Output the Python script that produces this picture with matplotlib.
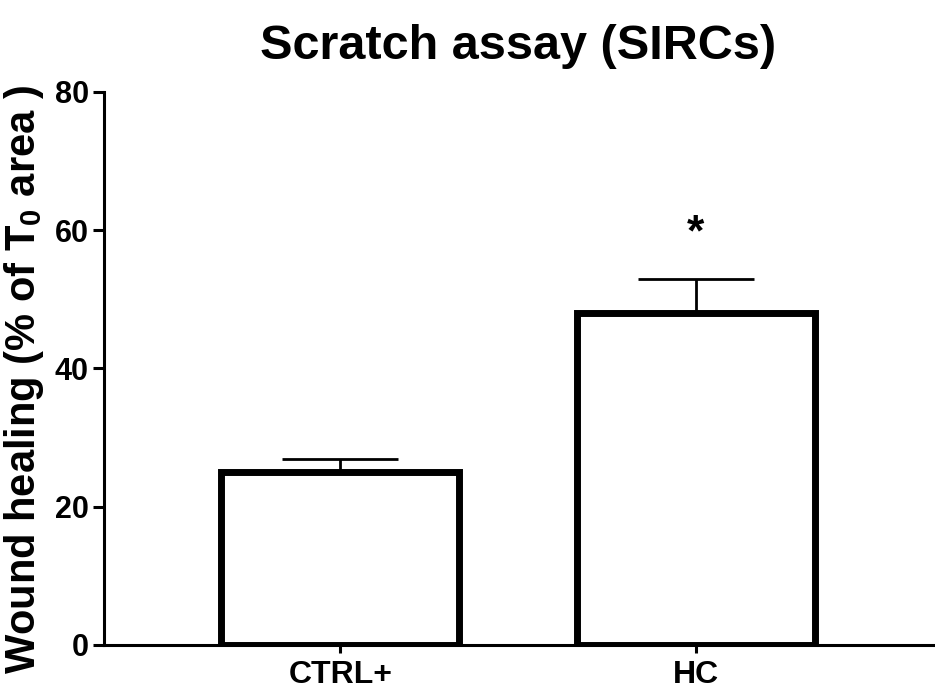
import numpy as np
import matplotlib
matplotlib.use('Agg')
import matplotlib.pyplot as plt

plt.rcParams['font.family'] = ['Liberation Sans', 'DejaVu Sans']
plt.rcParams['font.weight'] = 'bold'
plt.rcParams['mathtext.fontset'] = 'custom'
plt.rcParams['mathtext.rm'] = 'Liberation Sans:bold'
plt.rcParams['mathtext.bf'] = 'Liberation Sans:bold'

groups = ['CTRL+', 'HC']
means = [25.0, 48.0]
sems = [1.9, 5.0]
signif = ['', '*']

fig = plt.figure(figsize=(9.35, 6.89), dpi=100)
ax = fig.add_axes([0.1112, 0.0639, 0.8866, 0.8026])

x = np.arange(len(groups))
ax.bar(x, means, width=0.67, color='white', edgecolor='black', linewidth=5, zorder=2)
ax.errorbar(x, means, yerr=[np.zeros(len(sems)), sems], fmt='none', ecolor='black',
            elinewidth=2, capsize=42, capthick=2, zorder=1)

# significance mark above the error bar
for xi, m, s, lab in zip(x, means, sems, signif):
    if lab:
        ax.text(xi, m + s + 6.5, lab, ha='center', va='center', fontsize=32, fontweight='bold')

ax.set_xlim(-0.665, 1.667)
ax.set_ylim(0, 80)
ax.set_yticks([0, 20, 40, 60, 80])
ax.set_xticks(x)
ax.set_xticklabels(groups)
ax.tick_params(axis='y', labelsize=22, width=2.2, length=8, pad=3)
ax.tick_params(axis='x', labelsize=23, width=2.2, length=6, pad=5)

for side in ['top', 'right']:
    ax.spines[side].set_visible(False)
for side in ['left', 'bottom']:
    ax.spines[side].set_linewidth(2.2)

ax.set_ylabel(r'Wound healing (% of T$_\mathbf{0}$ area )', fontsize=30, fontweight='bold')
ax.yaxis.set_label_coords(-0.07, 0.48)
ax.set_title('Scratch assay (SIRCs)', fontsize=35, fontweight='bold', pad=24)

fig.savefig('out.png', dpi=100)
